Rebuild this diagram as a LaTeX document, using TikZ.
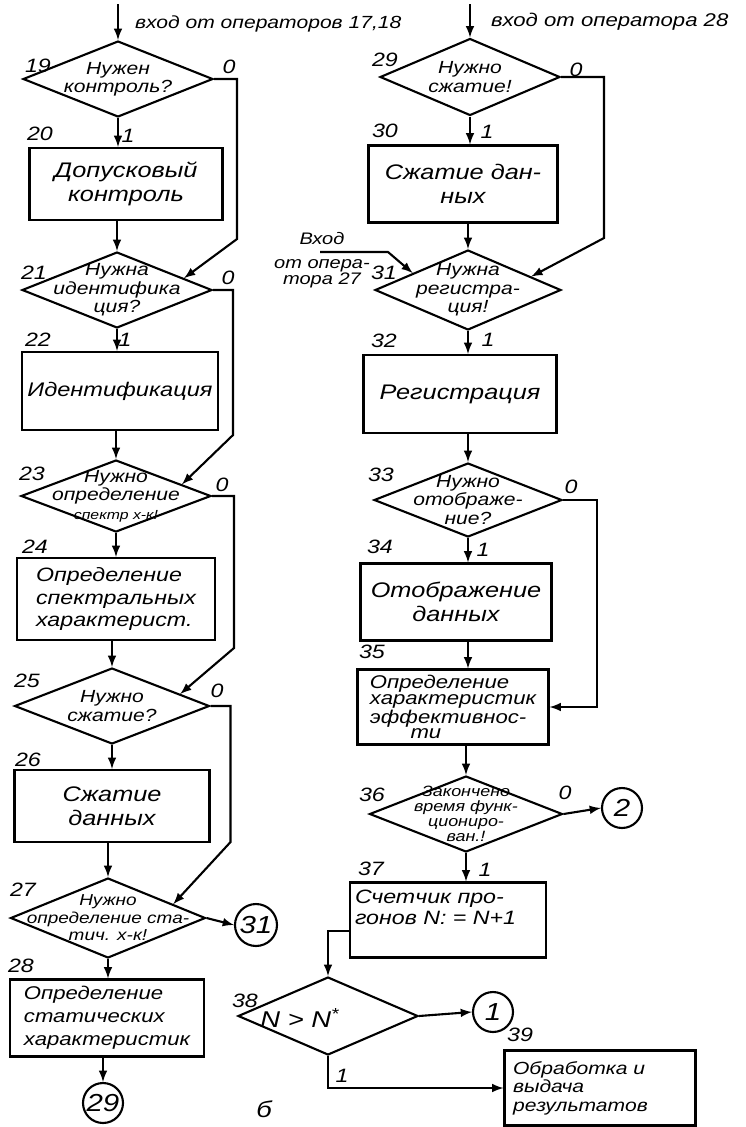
\documentclass[tikz,border=0pt]{standalone}
\usepackage{fontspec}
\newfontfamily\hand{Liberation Sans}[FakeStretch=1.2]
\usetikzlibrary{shapes.geometric}
\begin{document}
\begin{tikzpicture}[x=0.02cm,y=-0.02cm,line width=1.2pt,
    dec/.style={diamond,draw,inner sep=0pt,minimum width=3.8cm,minimum height=1.52cm},
    blk/.style={rectangle,draw,inner sep=0pt,minimum width=3.86cm,minimum height=1.52cm},
    cerchio/.style={circle,draw,inner sep=0pt,minimum size=0.84cm,font=\hand\itshape\fontsize{14}{14}\selectfont},
    dtxt/.style={align=center,inner sep=0pt,font=\hand\itshape\fontsize{10}{10.5}\selectfont},
    btxt/.style={align=center,inner sep=0pt,font=\hand\itshape\fontsize{12}{13.5}\selectfont},
    num/.style={inner sep=0pt,font=\hand\itshape\fontsize{11}{11}\selectfont}]
\useasboundingbox (0,0) rectangle (746,1127);
%colonna sinistra
\coordinate (in1) at (118,4);
\node[num,anchor=west,font=\hand\itshape\fontsize{10}{10}\selectfont] (e1) at (134,24) {вход от операторов 17,18};
\node[dec] (d19) at (118,79) {};
\node[dtxt] (t19) at (d19) {Нужен\\контроль?};
\node[blk,minimum height=1.44cm] (b20) at (126,184) {};
\node[btxt] (t20) at (b20) {Допусковый\\контроль};
\node[dec] (d21) at (117,290) {};
\node[dtxt] (t21) at (d21) {Нужна\\идентифика\\ция?};
\node[blk,minimum width=3.92cm,minimum height=1.56cm] (b22) at (120,391) {};
\node[btxt,font=\hand\itshape\fontsize{11.2}{13}\selectfont] (t22) at (b22) {Идентификация};
\node[dec,minimum height=1.44cm] (d23) at (116,496) {};
\node[dtxt] (t23) at (d23) {Нужно\\определение\\{\fontsize{7.5}{8}\selectfont спектр х-к!}};
\node[blk,minimum width=3.96cm,minimum height=1.64cm] (b24) at (116,599) {};
\node[btxt,align=left,font=\hand\itshape\fontsize{11}{13}\selectfont] (t24) at (b24) {Определение\\спектральных\\характерист.};
\node[dec,minimum width=3.9cm] (d25) at (112,706) {};
\node[dtxt] (t25) at (d25) {Нужно\\сжатие?};
\node[blk,minimum width=3.9cm,minimum height=1.44cm] (b26) at (112,806) {};
\node[btxt] (t26) at (b26) {Сжатие\\данных};
\node[dec,minimum width=3.9cm,minimum height=1.6cm] (d27) at (108,918) {};
\node[dtxt,font=\hand\itshape\fontsize{9}{10}\selectfont] (t27) at (d27) {Нужно\\определение ста-\\тич. х-к!};
\node[cerchio] (c31) at (256,925) {31};
\node[blk,minimum width=3.88cm,minimum height=1.54cm] (b28) at (107,1018) {};
\node[btxt,align=left,font=\hand\itshape\fontsize{10.5}{13}\selectfont] (t28) at (b28) {Определение\\статических\\характеристик};
\node[cerchio,minimum size=0.8cm] (c29) at (103,1103) {29};
%numeri
\node[num] (n19) at (38,66) {19};
\node[num] (z19) at (229,67) {0};
\node[num] (u19) at (128,136) {1};
\node[num] (n20) at (40,134) {20};
\node[num] (n21) at (34,273) {21};
\node[num] (z21) at (228,278) {0};
\node[num] (n22) at (38,340) {22};
\node[num] (u21) at (125,340) {1};
\node[num] (n23) at (32,474) {23};
\node[num] (z23) at (222,485) {0};
\node[num] (n24) at (35,547) {24};
\node[num] (n25) at (27,681) {25};
\node[num] (z25) at (217,691) {0};
\node[num] (n26) at (28,760) {26};
\node[num] (n27) at (23,890) {27};
\node[num] (n28) at (21,966) {28};
\node[num,font=\hand\itshape\fontsize{13}{13}\selectfont] (sub) at (264,1109) {б};
%frecce a sinistra
\draw[-latex] (in1) -- (d19.north);
\draw[-latex] (d19.south) -- (d19.south |- b20.north);
\draw[-latex] (b20.south -| d21.north) -- (d21.north);
\draw[-latex] (d21.south) -- (d21.south |- b22.north);
\draw[-latex] (b22.south -| d23.north) -- (d23.north);
\draw[-latex] (d23.south) -- (d23.south |- b24.north);
\draw[-latex] (b24.south -| d25.north) -- (d25.north);
\draw[-latex] (d25.south) -- (d25.south |- b26.north);
\draw[-latex] (b26.south -| d27.north) -- (d27.north);
\draw[-latex] (d27.south) -- (d27.south |- b28.north);
\draw[-latex] (b28.south -| c29.north) -- (c29.north);
\draw[-latex] (d27.east) -- (c31.west);
%rami 0
\draw[-latex] (d19.east) -- ++(23,0) -- ++(0,160) -- (d21.10);
\draw[-latex] (d21.east) -- ++(20,0) -- ++(0,145) -- (d23.10);
\draw[-latex] (d23.east) -- ++(22,0) -- ++(0,152) -- (d25.10);
\draw[-latex] (d25.east) -- ++(20,0) -- ++(0,136) -- (d27.12);
%colonna destra
\coordinate (in2) at (470,4);
\node[num,anchor=west,font=\hand\itshape\fontsize{10.5}{10.5}\selectfont] (e2) at (490,22) {вход от оператора 28};
\node[dec,minimum width=3.6cm,minimum height=1.54cm] (d29) at (470,77) {};
\node[dtxt] (t29) at (d29) {Нужно\\сжатие!};
\node[blk,minimum width=3.78cm,minimum height=1.54cm] (b30) at (463,184) {};
\node[btxt] (t30) at (b30) {Сжатие дан-\\ных};
\node[dec,minimum width=3.72cm,minimum height=1.6cm] (d31) at (468,290) {};
\node[dtxt] (t31) at (d31) {Нужна\\регистра-\\ция!};
\node[blk,minimum width=3.86cm,minimum height=1.56cm] (b32) at (460,394) {};
\node[btxt] (t32) at (b32) {Регистрация};
\node[dec,minimum width=3.76cm,minimum height=1.48cm] (d33) at (468,500) {};
\node[dtxt] (t33) at (d33) {Нужно\\отображе-\\ние?};
\node[blk,minimum width=3.82cm,minimum height=1.54cm] (b34) at (456,602) {};
\node[btxt] (t34) at (b34) {Отображение\\данных};
\node[blk,minimum width=3.82cm,minimum height=1.5cm] (b35) at (453,707) {};
\node[btxt,align=left,font=\hand\itshape\fontsize{10.5}{9}\selectfont] (t35) at (b35) {Определение\\характеристик\\эффективнос-\\\hspace*{2.2em}ти};
\node[dec,minimum width=3.86cm,minimum height=1.52cm] (d36) at (466,814) {};
\node[dtxt,font=\hand\itshape\fontsize{8.5}{8.5}\selectfont] (t36) at (d36) {Закончено\\время функ-\\циониро-\\ван.!};
\node[cerchio,minimum size=0.8cm] (c2) at (622,808) {2};
\node[blk,minimum width=3.92cm,minimum height=1.5cm] (b37) at (448,920) {};
\node[btxt,align=left,anchor=north west,font=\hand\itshape\fontsize{11}{12}\selectfont] (t37) at (354,889) {Счетчик про-\\гонов N: = N+1};
\node[dec,minimum width=3.6cm,minimum height=1.56cm] (d38) at (328,1016) {};
\node[dtxt,font=\hand\itshape\fontsize{13}{13}\selectfont] (t38) at (300,1018) {N > N\textsuperscript{*}};
\node[cerchio,minimum size=0.8cm] (c1) at (493,1012) {1};
\node[blk,minimum width=3.82cm,minimum height=1.5cm] (b39) at (600,1088) {};
\node[btxt,align=left,anchor=west,font=\hand\itshape\fontsize{10}{10.5}\selectfont] (t39) at (512,1088) {Обработка и\\выдача\\результатов};
%ingresso da 27
\coordinate (in3) at (320,252);
\node[num,align=center,font=\hand\itshape\fontsize{9.5}{9}\selectfont] (e3) at (322,260) {Вход\\[5pt]от опера-\\тора 27};
%numeri
\node[num] (n29) at (385,60) {29};
\node[num] (z29) at (576,70) {0};
\node[num] (n30) at (385,131) {30};
\node[num] (u29) at (487,132) {1};
\node[num] (n31) at (384,273) {31};
\node[num] (n32) at (384,341) {32};
\node[num] (u31) at (488,340) {1};
\node[num] (n33) at (381,475) {33};
\node[num] (z33) at (571,487) {0};
\node[num] (n34) at (380,547) {34};
\node[num] (u33) at (483,550) {1};
\node[num] (n35) at (372,652) {35};
\node[num] (n36) at (372,795) {36};
\node[num] (z36) at (565,793) {0};
\node[num] (n37) at (371,869) {37};
\node[num] (u36) at (485,870) {1};
\node[num] (n38) at (245,1001) {38};
\node[num] (u38) at (342,1076) {1};
\node[num] (n39) at (520,1035) {39};
%frecce a destra
\draw[-latex] (in2) -- (d29.north);
\draw[-latex] (d29.south) -- (d29.south |- b30.north);
\draw[-latex] (b30.south -| d31.north) -- (d31.north);
\draw[-latex] (d31.south) -- (d31.south |- b32.north);
\draw[-latex] (b32.south -| d33.north) -- (d33.north);
\draw[-latex] (d33.south) -- (d33.south |- b34.north);
\draw[-latex] (d33.south |- b34.south) -- (d33.south |- b35.north);
\draw[-latex] (b35.south -| d36.north) -- (d36.north);
\draw[-latex] (d36.south) -- (d36.south |- b37.north);
\draw[-latex] (d36.east) -- (c2.west);
\draw[-latex] ([yshift=-0.22cm]b37.west) -| (d38.north);
\draw[-latex] (d38.east) -- (c1.west);
\draw[-latex] (d38.south) |- (b39.west);
\draw[-latex] (d29.east) -- ++(43,0) -- ++(0,161) -- (d31.12);
\draw[-latex] (d33.east) -- ++(34,0) |- (b35.east);
\draw[-latex] (in3) -- ++(68,0) -- (d31.163);
\end{tikzpicture}
\end{document}
